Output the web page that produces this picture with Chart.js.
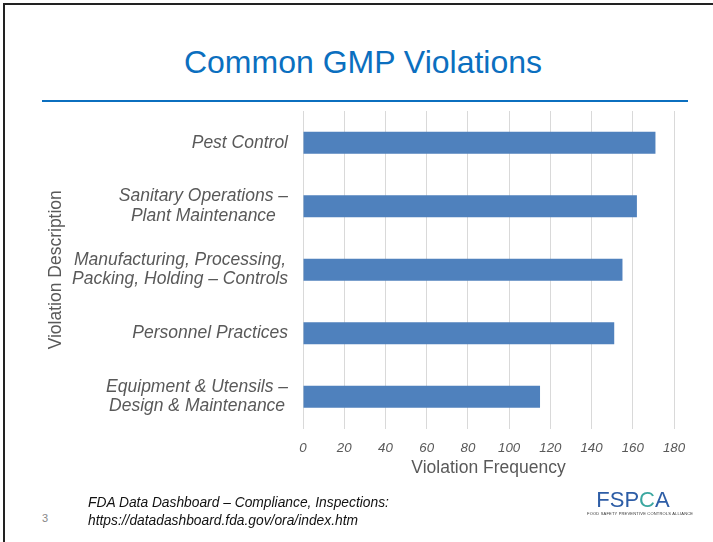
<!DOCTYPE html>
<html>
<head>
<meta charset="utf-8">
<script src="https://cdn.jsdelivr.net/npm/chart.js@4"></script>
<style>
  html, body { margin: 0; padding: 0; background: #fff; }
  body { width: 713px; height: 542px; position: relative; overflow: hidden; font-family: "Liberation Sans", Arial, sans-serif; }
  .frame { position: absolute; left: 3px; top: 3px; right: -10px; bottom: -10px; border-left: 2px solid #222; border-top: 2px solid #222; }
  .title { position: absolute; left: 0; width: 726px; top: 44px; text-align: center; font-size: 32px; color: #0B6FBF; }
  .rule { position: absolute; left: 42px; width: 646px; top: 100px; height: 2px; background: #0B6FBF; }
  #wrap { position: absolute; left: 0; top: 105px; width: 713px; height: 390px; }
  .src { position: absolute; left: 88px; top: 494px; font-size: 13.8px; font-style: italic; color: #111; line-height: 18px; }
  .pg { position: absolute; left: 42px; top: 512px; font-size: 11px; color: #888; }
  .logo { position: absolute; left: 587px; top: 489px; width: 92px; text-align: center; color: #2D5DA6; }
  .logo .big { font-size: 22px; letter-spacing: 0px; line-height: 22px; }
  .logo .big .c { color: #3BA7A0; }
  .logo .small { font-size: 4px; color: #333; letter-spacing: 0.2px; white-space: nowrap; }
</style>
</head>
<body>
<div class="frame"></div>
<div class="title">Common GMP Violations</div>
<div class="rule"></div>
<div id="wrap"><canvas id="chart"></canvas></div>
<div class="pg">3</div>
<div class="src">FDA Data Dashboard – Compliance, Inspections:<br>https://datadashboard.fda.gov/ora/index.htm</div>
<div class="logo"><div class="big">FSP<span class="c">C</span>A</div><div class="small">FOOD SAFETY PREVENTIVE CONTROLS ALLIANCE</div></div>
<script>
// categories, top to bottom
var categories = [
  ['Pest Control'],
  ['Sanitary Operations –', 'Plant Maintenance'],
  ['Manufacturing, Processing,', 'Packing, Holding – Controls'],
  ['Personnel Practices'],
  ['Equipment & Utensils –', 'Design & Maintenance']
];
var frequencies = [171, 162, 155, 151, 115];
var xTicks = [0, 20, 40, 60, 80, 100, 120, 140, 160, 180];

var labelFont = 'italic 17.5px "Liberation Sans", Arial, sans-serif';

// draw category labels as a right-aligned block with centered lines
var categoryLabels = {
  id: 'categoryLabels',
  afterDraw: function(chart) {
    var ctx = chart.ctx;
    var y = chart.scales.y;
    var right = chart.chartArea.left - 15;
    ctx.save();
    ctx.font = labelFont;
    ctx.fillStyle = '#595959';
    ctx.textAlign = 'center';
    ctx.textBaseline = 'middle';
    var lh = 19.5;
    categories.forEach(function(lines, i) {
      var w = 0;
      lines.forEach(function(l) { w = Math.max(w, ctx.measureText(l).width); });
      var cx = right - w / 2;
      var cy = y.getPixelForValue(i);
      var y0 = cy - (lines.length - 1) * lh / 2;
      lines.forEach(function(l, k) { ctx.fillText(l, cx, y0 + k * lh); });
    });
    ctx.restore();
  }
};

var ctx = document.getElementById('chart').getContext('2d');
new Chart(ctx, {
  type: 'bar',
  data: {
    labels: categories,
    datasets: [{
      label: 'Violation Frequency',
      data: frequencies,
      backgroundColor: '#4F81BD',
      borderWidth: 0,
      categoryPercentage: 1,
      barPercentage: 0.346
    }]
  },
  options: {
    indexAxis: 'y',
    responsive: true,
    maintainAspectRatio: false,
    animation: false,
    layout: { padding: { left: 42, right: 39, top: 6, bottom: 14.5 } },
    plugins: { legend: { display: false }, tooltip: { enabled: false } },
    scales: {
      x: {
        min: 0,
        max: 180,
        afterBuildTicks: function(s) { s.ticks = xTicks.map(function(v) { return { value: v }; }); },
        grid: { color: '#D9D9D9', drawTicks: false },
        border: { display: false },
        ticks: {
          padding: 12,
          color: '#595959',
          font: { family: '"Liberation Sans", Arial, sans-serif', size: 13.3, style: 'italic' }
        },
        title: {
          display: true,
          text: 'Violation Frequency',
          color: '#595959',
          padding: { top: -11, bottom: 2 },
          font: { family: '"Liberation Sans", Arial, sans-serif', size: 17.5 }
        }
      },
      y: {
        grid: { display: false, drawTicks: false },
        border: { display: false },
        afterFit: function(s) { s.width = 261; },
        ticks: { display: false },
        title: {
          display: true,
          text: 'Violation Description',
          color: '#595959',
          padding: { top: 4, bottom: 4 },
          font: { family: '"Liberation Sans", Arial, sans-serif', size: 17.5 }
        }
      }
    }
  },
  plugins: [categoryLabels]
});
</script>
</body>
</html>
